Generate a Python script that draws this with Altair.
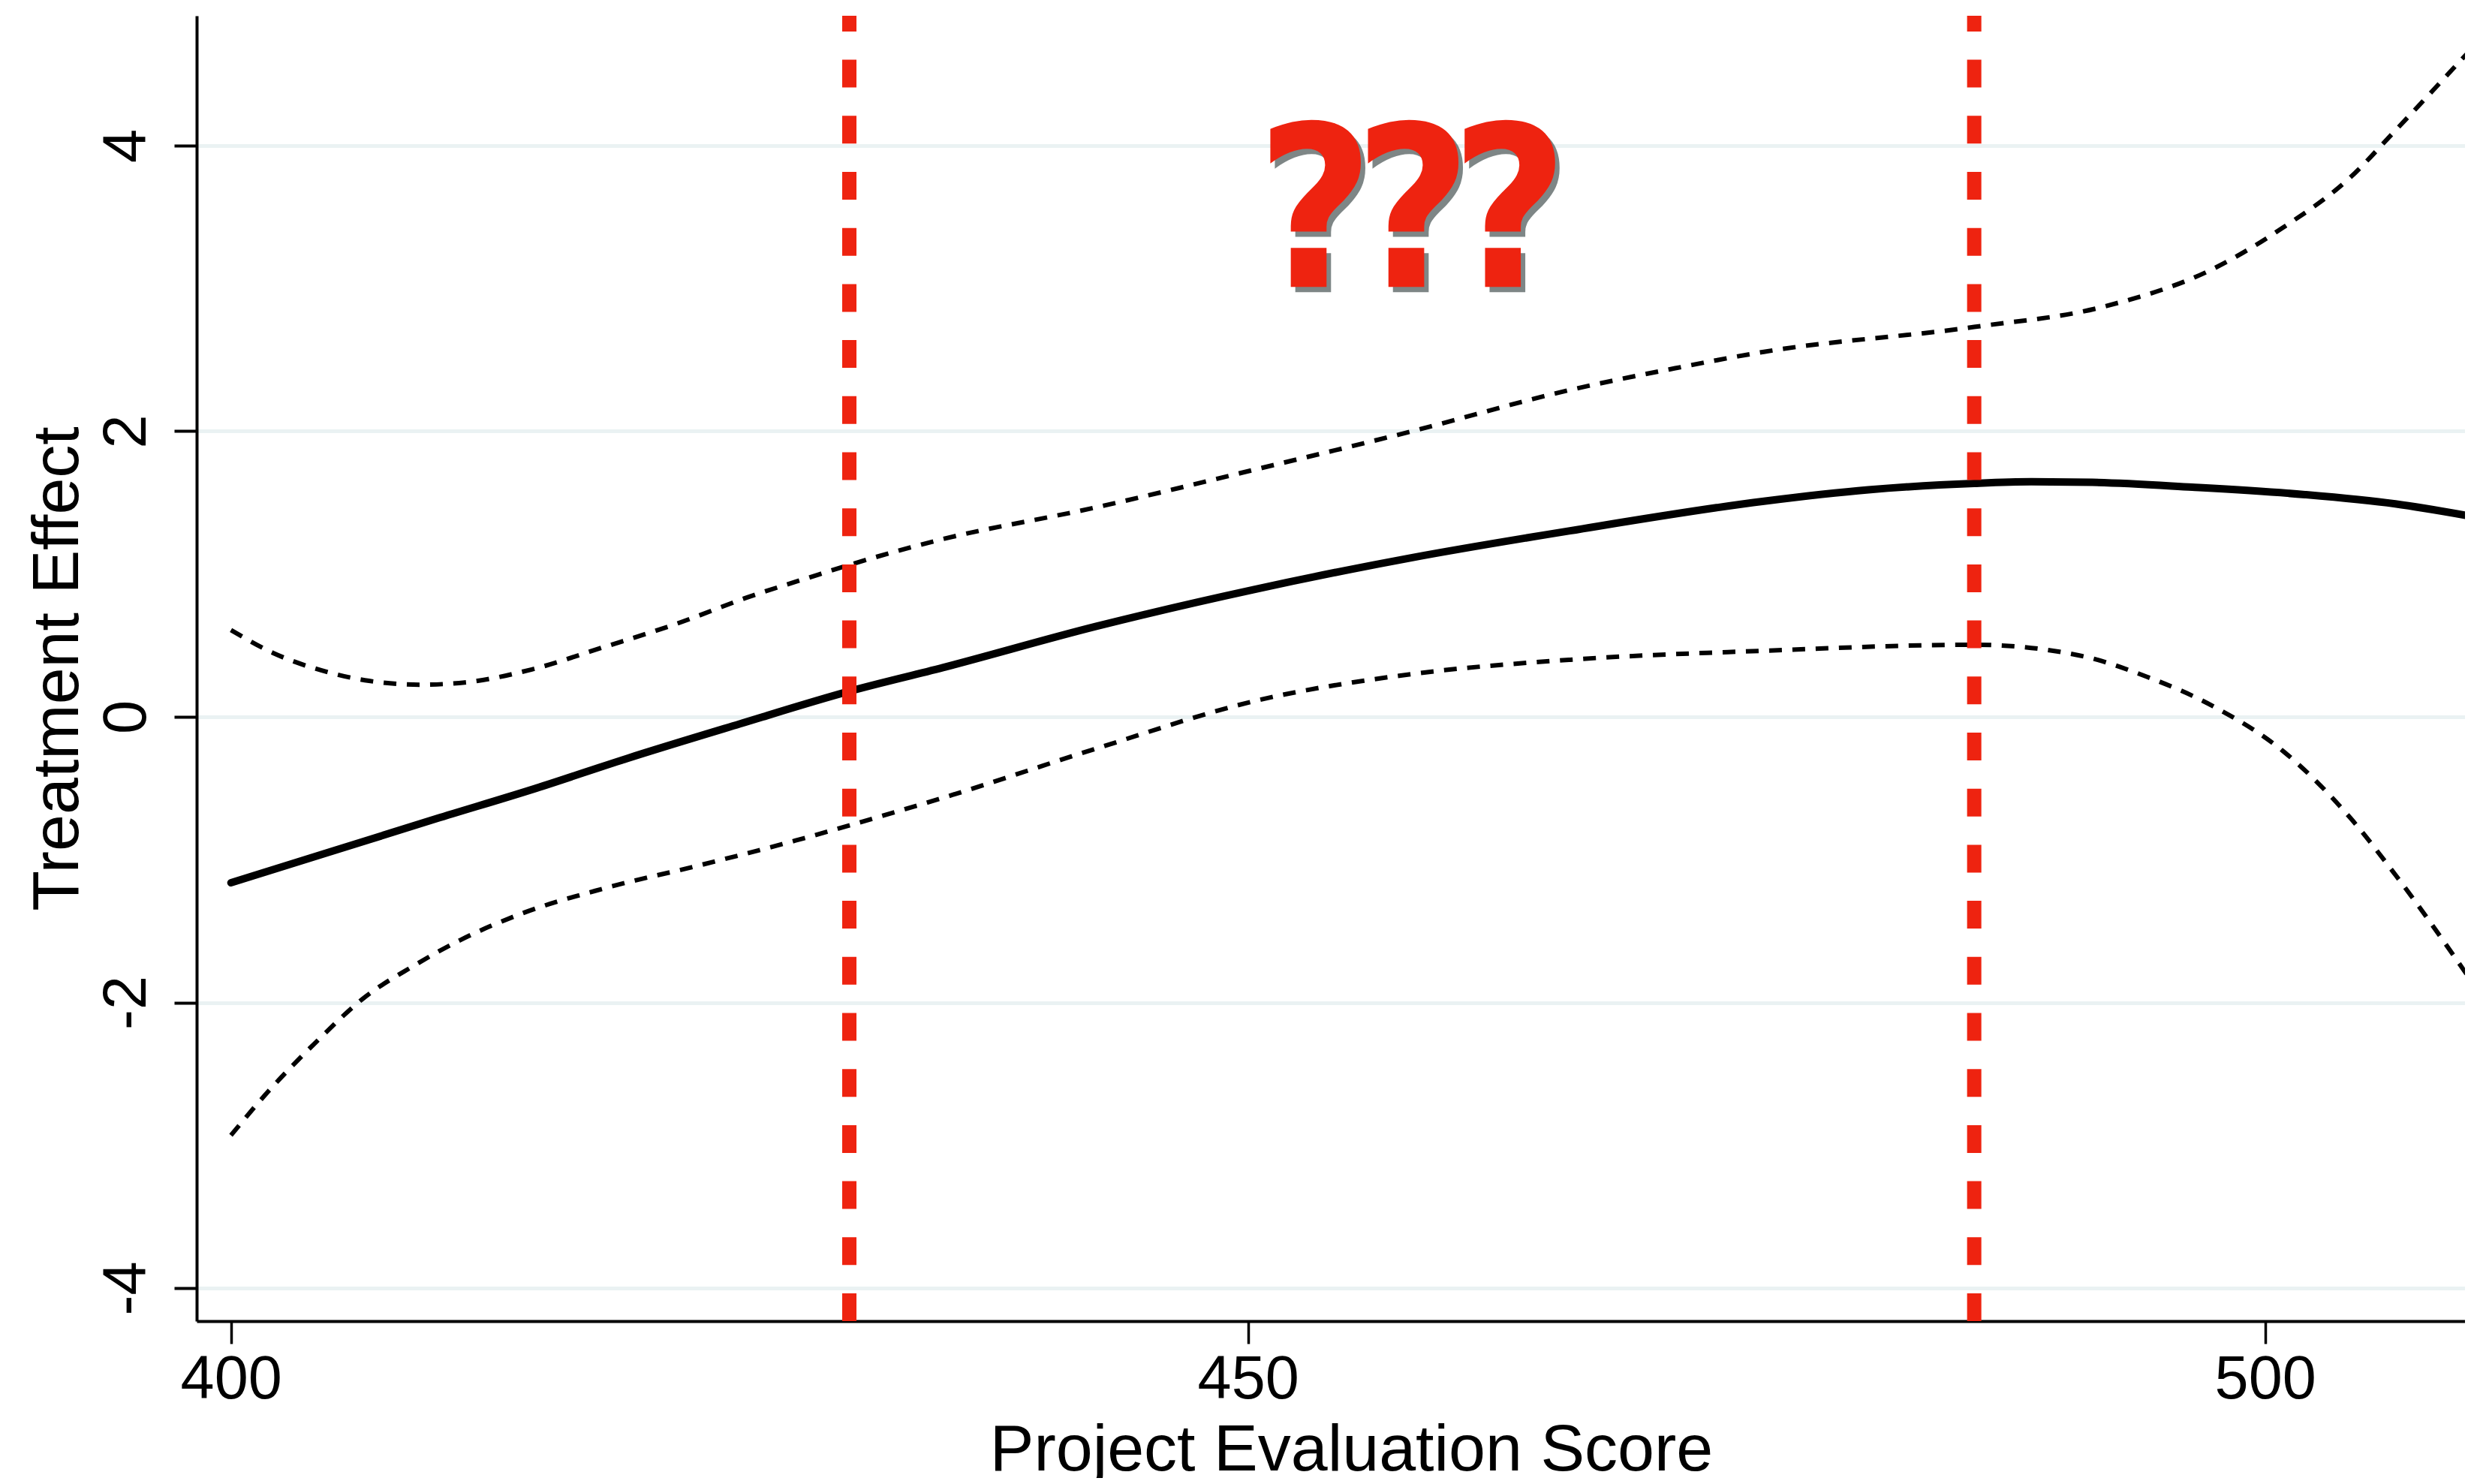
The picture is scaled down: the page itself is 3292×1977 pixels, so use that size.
import altair as alt
import pandas as pd

# ---------------- data ----------------
est_x = [400.0, 405.0, 410.08, 415.0, 419.5, 425.0, 430.4, 435.0, 442.54, 450.3,
         458.07, 465.83, 475.36, 480.5, 485.7, 488.5, 491.5, 496.42, 501.96, 506.4, 509.9]
est_y = [-1.162, -0.94, -0.714, -0.50, -0.29, -0.05, 0.179, 0.345, 0.634, 0.892,
         1.115, 1.303, 1.51, 1.59, 1.635, 1.646, 1.642, 1.608, 1.556, 1.491, 1.41]

upper_x = [400.0, 402.08, 404.43, 406.79, 409.26, 411.49, 414.79, 418.32, 421.85, 425.38,
           428.9, 430.4, 434.78, 442.54, 450.3, 458.07, 465.83, 471.0, 475.36, 485.7,
           492.0, 497.53, 500.86, 504.18, 506.4, 509.9]
upper_y = [0.608, 0.447, 0.326, 0.252, 0.225, 0.241, 0.332, 0.488, 0.649, 0.836,
           0.997, 1.064, 1.237, 1.467, 1.73, 2.0, 2.289, 2.441, 2.556, 2.73,
           2.87, 3.143, 3.424, 3.776, 4.105, 4.64]

lower_x = [400.0, 401.85, 404.2, 406.55, 408.9, 411.26, 414.32, 418.32, 423.02, 427.73,
           430.4, 435.2, 442.54, 450.3, 458.07, 465.83, 475.36, 485.7, 490.87, 494.2,
           497.53, 500.86, 504.18, 506.4, 509.9]
lower_y = [-2.93, -2.62, -2.275, -1.966, -1.75, -1.564, -1.376, -1.202, -1.04, -0.867,
           -0.76, -0.558, -0.222, 0.11, 0.30, 0.40, 0.463, 0.505, 0.43, 0.28,
           0.068, -0.237, -0.706, -1.105, -1.80]

cutoff_x = [430.4, 485.7]

mark_text_x = [453.3, 458.1, 462.85]
mark_text_y = [3.01, 3.01, 3.01]
mark_text = ["?", "?", "?"]

x_ticks = [400, 450, 500]
y_ticks = [-4, -2, 0, 2, 4]
x_domain = [398.314, 509.827]
y_domain = [-4.231, 4.909]

# ---------------- tables ----------------
est_df = pd.DataFrame({"x": est_x, "y": est_y})
ci_df = pd.concat([
    pd.DataFrame({"x": upper_x, "y": upper_y, "band": "upper"}),
    pd.DataFrame({"x": lower_x, "y": lower_y, "band": "lower"}),
])
cut_df = pd.DataFrame({"x": cutoff_x})
q_df = pd.DataFrame({"x": mark_text_x, "y": mark_text_y, "t": mark_text})

W, H = 3022, 1739
RED = "#EE2310"
FONT = "Liberation Sans"
QFONT = "DejaVu Sans Condensed, sans-serif"

xs = alt.Scale(domain=x_domain, nice=False, zero=False)
ys = alt.Scale(domain=y_domain, nice=False, zero=False)

x_axis = alt.Axis(
    values=x_ticks, title="Project Evaluation Score", grid=False,
    labelFlush=False, labelOverlap=False, labelBound=False,
    labelPadding=8, tickSize=30, tickWidth=3.5,
    titleX=1538, titleY=198, titleAlign="center", titleBaseline="alphabetic",
    titleAnchor="start",
)
y_axis = alt.Axis(
    values=y_ticks, title="Treatment Effect", grid=True,
    labelExpr="'' + datum.value",
    labelAngle=270, labelAlign="center", labelBaseline="alphabetic",
    labelPadding=39, labelOverlap=False, labelFlush=False, labelBound=False,
    tickSize=30, tickWidth=4,
    titleAngle=270, titleX=-159, titleY=869.5, titleAlign="center",
    titleBaseline="alphabetic", titleAnchor="start",
)

X = alt.X("x:Q", scale=xs, axis=x_axis)
Y = alt.Y("y:Q", scale=ys, axis=y_axis)

est = alt.Chart(est_df).mark_line(
    color="black", strokeWidth=10, strokeCap="round", interpolate="monotone", clip=True
).encode(x=X, y=Y)

ci = alt.Chart(ci_df).mark_line(
    color="black", strokeWidth=6, strokeDash=[17, 14], interpolate="monotone", clip=True
).encode(x=X, y=Y, detail="band:N")

rules = alt.Chart(cut_df).mark_rule(
    color=RED, strokeWidth=19, strokeDash=[37, 37.7], clip=True
).encode(x=X, y=alt.value(H), y2=alt.value(0))

shadow = alt.Chart(q_df).mark_text(
    font=QFONT, fontWeight="bold", fontSize=300, color="#3a4646", opacity=0.65,
    dx=6, dy=7, align="center", baseline="alphabetic"
).encode(x=X, y=Y, text="t:N")

qmarks = alt.Chart(q_df).mark_text(
    font=QFONT, fontWeight="bold", fontSize=300, color=RED,
    align="center", baseline="alphabetic"
).encode(x=X, y=Y, text="t:N")

chart = alt.layer(est, ci, rules, shadow, qmarks).properties(
    width=W, height=H,
    autosize=alt.AutoSizeParams(type="none"),
    padding={"left": 254, "top": 13, "right": 0, "bottom": 209},
    background="white",
).configure_view(stroke=None).configure_axis(
    domainColor="black", domainWidth=4, tickColor="black",
    labelFont=FONT, labelFontSize=81, labelColor="black",
    titleFont=FONT, titleFontSize=88, titleFontWeight="normal", titleColor="black",
    gridColor="#EAF2F3", gridWidth=5,
)

chart.save("out.html", embed_options={"renderer": "svg", "actions": False})
